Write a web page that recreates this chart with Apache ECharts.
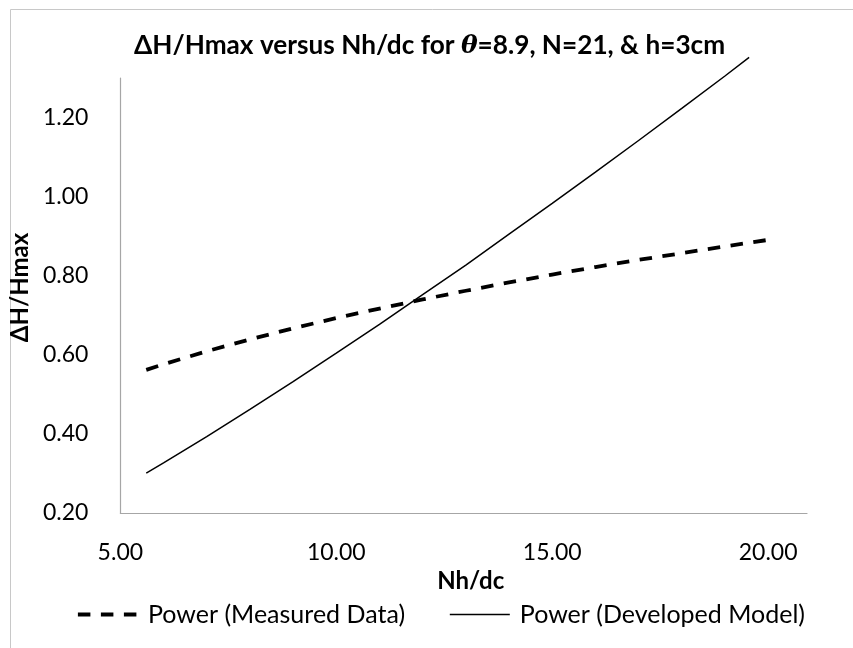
<!DOCTYPE html>
<html>
<head>
<meta charset="utf-8">
<script src="https://cdn.jsdelivr.net/npm/echarts@6/dist/echarts.min.js"></script>
<style>html,body{margin:0;padding:0;background:#fff}#c{width:853px;height:648px}</style>
</head>
<body>
<div id="c"></div>
<script>
// Values
const xMeasured = [5.6, 6, 7, 8, 9, 10, 11, 12, 13, 14, 15, 16, 17, 18, 19, 20.02];
const yMeasured = [0.562, 0.576, 0.609, 0.639, 0.667, 0.693, 0.717, 0.740, 0.762, 0.783, 0.803, 0.822, 0.840, 0.857, 0.874, 0.891];
const xModel = [5.6, 6, 7, 8, 9, 10, 11, 12, 13, 14, 15, 16, 17, 18, 19, 19.56];
const yModel = [0.301, 0.327, 0.393, 0.462, 0.532, 0.604, 0.677, 0.752, 0.827, 0.905, 0.983, 1.062, 1.142, 1.223, 1.305, 1.352];
const seriesNames = ['Power (Measured Data)', 'Power (Developed Model)'];
const xTicks = [5, 10, 15, 20];
const yTicks = [0.2, 0.4, 0.6, 0.8, 1.0, 1.2];

const chart = echarts.init(document.getElementById('c'));
const FONT = 'Lato';
chart.setOption({
  animation: false,
  backgroundColor: '#fff',
  graphic: [{
    type: 'rect', left: 8, top: 7, silent: true,
    shape: { width: 900, height: 700 },
    style: { fill: 'none', stroke: '#c8c8c8', lineWidth: 1 }
  }],
  title: {
    text: '{b|ΔH/Hmax versus Nh/dc for }{t|θ}{b|=8.9, N=21, & h=3cm}',
    left: 129, top: 28,
    textStyle: {
      rich: {
        b: { fontFamily: FONT, fontWeight: 'bold', fontSize: 26.2, color: '#000' },
        t: { fontFamily: 'DejaVu Serif', fontWeight: 'bold', fontStyle: 'italic', fontSize: 25, color: '#000' }
      }
    }
  },
  legend: {
    top: 597, left: 71,
    itemWidth: 60, itemHeight: 14, itemGap: 44,
    itemStyle: { opacity: 0 },
    textStyle: { fontFamily: FONT, fontSize: 25, color: '#000', padding: [0, 0, 0, 5] },
    data: [
      { name: seriesNames[0], lineStyle: { width: 3.8, type: [12.5, 10.5], color: '#000' } },
      { name: seriesNames[1], lineStyle: { width: 1.5, type: 'solid', color: '#000' } }
    ]
  },
  grid: { left: 119, right: 46, top: 78, bottom: 135 },
  xAxis: {
    type: 'value', min: 5, max: 20.9, interval: 5,
    name: 'Nh/dc', nameLocation: 'middle', nameGap: 33,
    nameTextStyle: { fontFamily: FONT, fontWeight: 'bold', fontSize: 24, color: '#000', padding: [0, 0, 0, 14] },
    axisLine: { lineStyle: { color: '#a6a6a6', width: 1.2 } },
    axisTick: { show: false },
    splitLine: { show: false },
    axisLabel: {
      showMaxLabel: false, margin: 28, fontFamily: FONT, fontSize: 23, color: '#000',
      formatter: v => xTicks.includes(v) ? v.toFixed(2) : ''
    }
  },
  yAxis: {
    type: 'value', min: 0.2, max: 1.3, interval: 0.2,
    name: 'ΔH/Hmax', nameLocation: 'middle', nameGap: 71,
    nameTextStyle: { fontFamily: FONT, fontWeight: 'bold', fontSize: 24, color: '#000', padding: [0, 0, 0, 16] },
    axisLine: { show: true, lineStyle: { color: '#a6a6a6', width: 1.2 } },
    axisTick: { show: false },
    splitLine: { show: false },
    axisLabel: {
      showMaxLabel: false, margin: 32, fontFamily: FONT, fontSize: 23, color: '#000',
      formatter: v => yTicks.some(t => Math.abs(t - v) < 1e-6) ? v.toFixed(2) : ''
    }
  },
  series: [
    {
      name: seriesNames[0], type: 'line', symbol: 'none', clip: false,
      data: xMeasured.map((x, i) => [x, yMeasured[i]]),
      lineStyle: { color: '#000', width: 3.8, type: [12.5, 10.5] },
      itemStyle: { color: '#000' }
    },
    {
      name: seriesNames[1], type: 'line', symbol: 'none', clip: false,
      data: xModel.map((x, i) => [x, yModel[i]]),
      lineStyle: { color: '#000', width: 1.5, type: 'solid' },
      itemStyle: { color: '#000' }
    }
  ]
});
</script>
</body>
</html>
